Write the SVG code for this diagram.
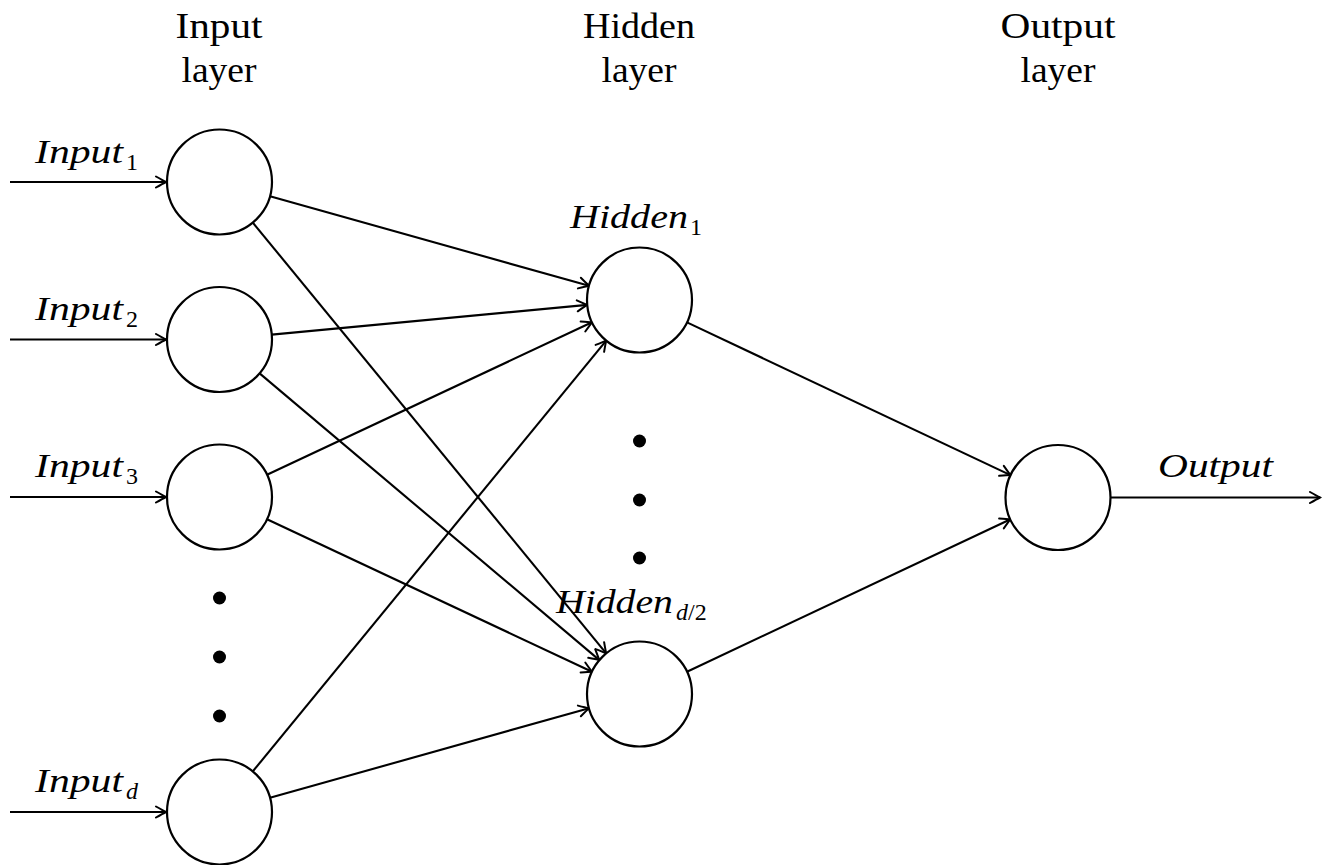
<svg xmlns="http://www.w3.org/2000/svg" width="1327" height="865" viewBox="0 0 1327 865">
<style>
.node{fill:#fff;stroke:#000;stroke-width:2.2}
.edge{fill:none;stroke:#000;stroke-width:2.1;marker-end:url(#arr)}
.hdr{font-family:"Liberation Serif",serif;font-size:36px;fill:#000;text-anchor:middle}
.lbl{font-family:"Liberation Serif",serif;font-size:33px;font-style:italic;fill:#000}
.lbl .sub{font-style:normal;font-size:24px}
.lbl .subi{font-style:italic;font-size:24px}
.dot{fill:#000}
</style>
<defs>
<marker id="arr" markerUnits="userSpaceOnUse" markerWidth="14" markerHeight="14" refX="0" refY="0" viewBox="-12 -7 14 14" orient="auto">
<path d="M -10 -5.5 Q -3 -1.5 0 0 Q -3 1.5 -10 5.5" fill="none" stroke="#000" stroke-width="2" stroke-linecap="round"/>
</marker>
</defs>
<g id="headers">
<text class="hdr" x="219" y="38" textLength="87" lengthAdjust="spacingAndGlyphs">Input</text>
<text class="hdr" x="219" y="82" textLength="75" lengthAdjust="spacingAndGlyphs">layer</text>
<text class="hdr" x="639" y="38" textLength="112" lengthAdjust="spacingAndGlyphs">Hidden</text>
<text class="hdr" x="639" y="82" textLength="75" lengthAdjust="spacingAndGlyphs">layer</text>
<text class="hdr" x="1058" y="38" textLength="115" lengthAdjust="spacingAndGlyphs">Output</text>
<text class="hdr" x="1058" y="82" textLength="75" lengthAdjust="spacingAndGlyphs">layer</text>
</g>
<g id="connectors">
<line class="edge" x1="10" y1="182" x2="166" y2="182"/>
<line class="edge" x1="10" y1="339.5" x2="166" y2="339.5"/>
<line class="edge" x1="10" y1="497" x2="166" y2="497"/>
<line class="edge" x1="10" y1="812" x2="166" y2="812"/>
<line class="edge" x1="270.0" y1="196.2" x2="589.0" y2="285.8"/>
<line class="edge" x1="252.8" y1="222.6" x2="606.2" y2="653.4"/>
<line class="edge" x1="271.8" y1="334.6" x2="587.2" y2="304.9"/>
<line class="edge" x1="259.6" y1="373.4" x2="599.4" y2="660.1"/>
<line class="edge" x1="267.0" y1="474.7" x2="592.0" y2="322.3"/>
<line class="edge" x1="267.0" y1="519.3" x2="592.0" y2="671.7"/>
<line class="edge" x1="252.8" y1="771.4" x2="606.2" y2="340.6"/>
<line class="edge" x1="270.0" y1="797.8" x2="589.0" y2="708.2"/>
<line class="edge" x1="687.0" y1="322.4" x2="1010.5" y2="475.1"/>
<line class="edge" x1="687.0" y1="671.7" x2="1010.5" y2="519.2"/>
<line class="edge" x1="1110.5" y1="497.5" x2="1320" y2="497.5"/>
</g>
<g id="input1"><circle class="node" cx="219.5" cy="182" r="52.5"/><text class="lbl" x="35" y="163"><tspan textLength="88" lengthAdjust="spacingAndGlyphs">Input</tspan><tspan class="sub" style="font-style:normal" dx="3" dy="7">1</tspan></text></g>
<g id="input2"><circle class="node" cx="219.5" cy="339.5" r="52.5"/><text class="lbl" x="35" y="320"><tspan textLength="88" lengthAdjust="spacingAndGlyphs">Input</tspan><tspan class="sub" style="font-style:normal" dx="3" dy="7">2</tspan></text></g>
<g id="input3"><circle class="node" cx="219.5" cy="497" r="52.5"/><text class="lbl" x="35" y="477"><tspan textLength="88" lengthAdjust="spacingAndGlyphs">Input</tspan><tspan class="sub" style="font-style:normal" dx="3" dy="7">3</tspan></text></g>
<g id="input-dots"><circle class="dot" cx="219.5" cy="598" r="6.5"/><circle class="dot" cx="219.5" cy="657" r="6.5"/><circle class="dot" cx="219.5" cy="716" r="6.5"/></g>
<g id="inputd"><circle class="node" cx="219.5" cy="812" r="52.5"/><text class="lbl" x="35" y="792"><tspan textLength="88" lengthAdjust="spacingAndGlyphs">Input</tspan><tspan class="subi" dx="3" dy="7">d</tspan></text></g>
<g id="hidden1"><circle class="node" cx="639.5" cy="300" r="52.5"/><text class="lbl" x="570" y="228"><tspan textLength="118" lengthAdjust="spacingAndGlyphs">Hidden</tspan><tspan class="sub" style="font-style:normal" dx="2" dy="7">1</tspan></text></g>
<g id="hidden-dots"><circle class="dot" cx="639.5" cy="441" r="6.5"/><circle class="dot" cx="639.5" cy="500" r="6.5"/><circle class="dot" cx="639.5" cy="558" r="6.5"/></g>
<g id="hiddend2"><circle class="node" cx="639.5" cy="694" r="52.5"/><text class="lbl" x="556" y="613"><tspan textLength="117" lengthAdjust="spacingAndGlyphs">Hidden</tspan><tspan class="subi" dx="3" dy="7">d</tspan><tspan class="sub" style="font-style:normal">/2</tspan></text></g>
<g id="output"><circle class="node" cx="1058" cy="497.5" r="52.5"/><text class="lbl" x="1158" y="477" textLength="115" lengthAdjust="spacingAndGlyphs">Output</text></g>
</svg>
